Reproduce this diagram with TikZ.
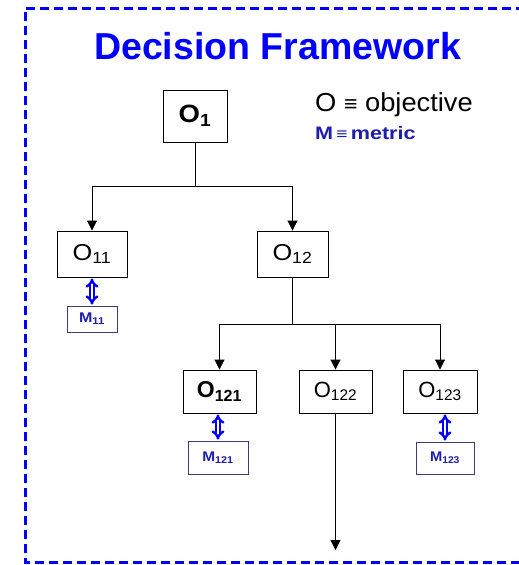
\documentclass[tikz,border=0pt]{standalone}
\usepackage{fontspec}
\usepackage{graphicx}
\setmainfont{Liberation Sans}
\usetikzlibrary{arrows.meta}
\definecolor{metricblue}{RGB}{30,30,170}
\definecolor{metricedge}{RGB}{60,60,120}
\newcommand{\fsz}[1]{\fontsize{#1}{#1}\selectfont}
\newcommand{\wide}[2]{\scalebox{#1}[1]{#2}}
\tikzset{
  objbox/.style={draw=black, line width=0.9pt, fill=white, inner sep=0pt,
    font=\fsz{23}},
  metbox/.style={draw=metricedge, line width=0.8pt, fill=white, inner sep=0pt,
    text=metricblue, font=\fsz{14}\bfseries},
  conn/.style={draw=black, line width=0.9pt},
  arr/.style={conn, -{Triangle[width=10pt,length=10pt]}},
  link/.style={draw=blue, double=white, line width=2.4pt, double distance=1.6pt,
    {Implies}-{Implies}, shorten <=1pt, shorten >=1pt},
  frame/.style={draw=blue, line width=3pt, dash pattern=on 9pt off 5pt}
}
\begin{document}
\begin{tikzpicture}[x=1pt,y=-1pt]
  \useasboundingbox (0,0) rectangle (519,565);
  \fill[white] (0,0) rectangle (519,565);

  % outer frame (right side runs off the page)
  \draw[frame] (525,8) -- (25,8) -- (25,562) -- (525,562);

  % title and legend
  \node[text=blue, font=\fsz{37.5}\bfseries, anchor=base] (title) at (277.5,59) {Decision Framework};
  \node[font=\fsz{26}, anchor=base west, inner sep=0pt] (legO) at (315,111)
    {\wide{1.05}{O {\fsz{22}≡} objective}};
  \node[font=\fsz{18}\bfseries, text=metricblue, anchor=base west, inner sep=0pt] (legM) at (315,139)
    {\wide{1.2}{M{\fsz{16}\,≡\,}metric}};

  % objective boxes
  \node[objbox, minimum width=64pt, minimum height=52pt, font=\fsz{25}\bfseries] (O1) at (195,116) {\wide{1.1}{O\textsubscript{1}}};
  \node[objbox, minimum width=70pt, minimum height=46pt] (O11) at (92,254) {\wide{1.1}{O\textsubscript{11}}};
  \node[objbox, minimum width=71pt, minimum height=46pt] (O12) at (292.5,254) {\wide{1.1}{O\textsubscript{12}}};
  \node[objbox, minimum width=73pt, minimum height=43pt, font=\fsz{23}\bfseries] (O121) at (219.5,391.5) {O\textsubscript{121}};
  \node[objbox, minimum width=73pt, minimum height=43pt, font=\fsz{22}] (O122) at (335.5,391.5) {O\textsubscript{122}};
  \node[objbox, minimum width=74pt, minimum height=43pt, font=\fsz{22}] (O123) at (440,391.5) {O\textsubscript{123}};

  % metric boxes
  \node[metbox, minimum width=50pt, minimum height=26pt] (M11) at (92,319) {\wide{1.15}{M\textsubscript{11}}};
  \node[metbox, minimum width=60pt, minimum height=33pt] (M121) at (218,457.5) {\wide{1.1}{M\textsubscript{121}}};
  \node[metbox, minimum width=58pt, minimum height=32pt] (M123) at (445,458) {\wide{1.05}{M\textsubscript{123}}};

  % tree connectors
  \coordinate (j1) at (195,186);
  \coordinate (j2) at (292.5,324);
  \coordinate (tail) at (335.5,550);
  \draw[conn] (O1.south) -- (j1);
  \draw[arr] (j1) -| (O11.north);
  \draw[arr] (j1) -| (O12.north);
  \draw[conn] (O12.south) -- (j2);
  \draw[arr] (j2) -| (O121.north);
  \draw[arr] (j2) -| (O122.north);
  \draw[arr] (j2) -| (O123.north);
  \draw[arr] (O122.south) -- (tail);

  % objective-metric links
  \draw[link] (O11.south) -- (O11.south |- M11.north);
  \draw[link] (O121.south -| M121.north) -- (M121.north);
  \draw[link] (O123.south -| M123.north) -- (M123.north);
\end{tikzpicture}
\end{document}
